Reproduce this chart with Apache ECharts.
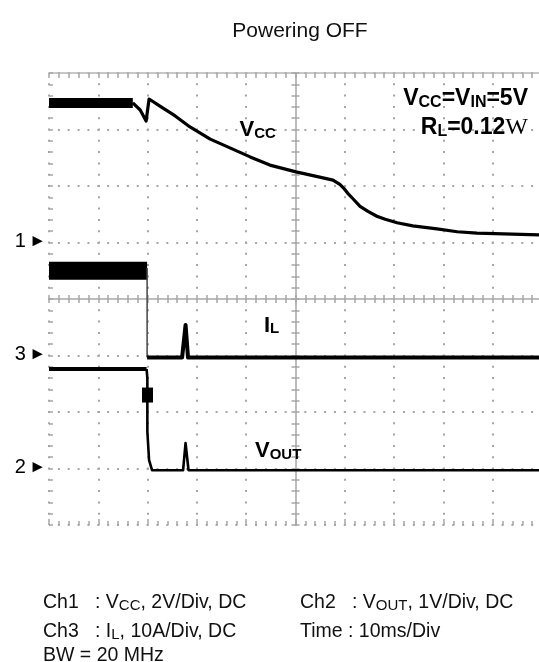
<!DOCTYPE html>
<html><head><meta charset="utf-8">
<script src="https://cdn.jsdelivr.net/npm/echarts@6/dist/echarts.min.js"></script>
<style>html,body{margin:0;padding:0;background:#fff;}#c{width:539px;height:662px;}</style>
</head><body><div id="c"></div>
<script>
// ---------- data (time in ms, 10 ms/div) ----------
// Ch1 Vcc: 2 V/div, ground marker at +1 div
const vccAxisRange = [-10, 6];
// Ch2 Vout: 1 V/div, ground marker at -3 div
const voutAxisRange = [-1, 7];
// Ch3 IL: 10 A/div, ground marker at -1 div
const ilAxisRange = [-30, 50];
const timeRange = [0, 100];

const vccNoisy = [[0, 4.94], [17.0, 4.94]];
const vccTrace = [[17.0, 4.94], [18.5, 4.69], [19.7, 4.30], [20.3, 5.08], [22.5, 4.83], [25.6, 4.48],
  [28.6, 4.09], [32.7, 3.66], [36.7, 3.35], [40.8, 3.03], [44.8, 2.74], [50.1, 2.50], [54.0, 2.35],
  [57.6, 2.21], [59.0, 2.06], [59.8, 1.92], [60.6, 1.74], [61.7, 1.54], [63.1, 1.28], [64.7, 1.10],
  [66.5, 0.93], [68.2, 0.82], [70.6, 0.70], [73.8, 0.59], [78.7, 0.48], [82.8, 0.38], [86.8, 0.33],
  [100, 0.27]];
const ilNoisy = [[0, 15], [19.9, 15]];
const ilEdge = [[19.9, 15.5], [19.9, -0.35]];
const ilTrace = [[19.9, -0.35], [27.0, -0.35], [27.7, 5.4], [28.2, -0.35], [100, -0.35]];
const voutFlat = [[0, 1.76], [19.8, 1.76]];
const voutTrace = [[19.8, 1.76], [19.95, 1.6], [19.95, 0.65], [20.3, 0.15], [20.9, -0.03],
  [27.2, -0.03], [27.7, 0.45], [28.3, -0.03], [100, -0.03]];
const voutMarker = [[19.98, 1.30]];
const channelMarks = ['1', '2', '3']; // Vcc, Vout, IL

const titleText = 'Powering OFF';
const infoRows = [
  ['Ch1   : V{s|CC}, 2V/Div, DC', 'Ch2   : V{s|OUT}, 1V/Div, DC'],
  ['Ch3   : I{s|L}, 10A/Div, DC', 'Time : 10ms/Div'],
  ['BW = 20 MHz', '']
];

// ---------- chart ----------
const FF = '"Liberation Sans", Arial, sans-serif';
const gray = '#a6a6a6';
const tickLS = {color: gray, width: 1.5};

function gx(extra) {
  return Object.assign({type: 'value', min: -5, max: 5, interval: 1, gridIndex: 0,
    axisLabel: {show: false}, splitLine: {show: false},
    axisTick: {show: false}, minorTick: {show: false},
    axisLine: {show: false, onZero: false}}, extra);
}
function gy(extra) {
  return Object.assign({type: 'value', min: -4, max: 4, interval: 1, gridIndex: 0,
    axisLabel: {show: false}, splitLine: {show: false},
    axisTick: {show: false}, minorTick: {show: false},
    axisLine: {show: false, onZero: false}}, extra);
}
function chAxis(range, interval, mark) {
  return {type: 'value', min: range[0], max: range[1], interval: interval, position: 'left',
    axisLine: {show: false, onZero: false}, axisTick: {show: false}, splitLine: {show: false},
    axisLabel: {show: true, margin: 3, padding: [0, 0, 3, 0],
      formatter: v => v === 0 ? '{n|' + mark + '} {a|►}' : '',
      rich: {n: {fontSize: 20, fontFamily: FF, color: '#000', verticalAlign: 'middle'},
             a: {fontSize: 17, fontFamily: FF, color: '#000', verticalAlign: 'middle'}}}};
}

const xAxes = [
  gx({position: 'bottom', axisTick: {show: true, inside: true, length: 6, lineStyle: tickLS},
      minorTick: {show: true, splitNumber: 5, length: 4, lineStyle: tickLS},
      splitLine: {show: true, lineStyle: {color: gray, width: 2, type: [2, 9.3], dashOffset: 1}}}),
  gx({position: 'top', axisLine: {show: true, onZero: false, lineStyle: {color: '#b5b5b5', width: 1.5}},
      axisTick: {show: true, inside: true, length: 5, lineStyle: tickLS},
      minorTick: {show: true, splitNumber: 5, length: 5, lineStyle: tickLS}}),
  gx({position: 'bottom', axisLine: {show: true, onZero: true, onZeroAxisIndex: 0, lineStyle: {color: '#bdbdbd', width: 2}},
      axisTick: {show: true, inside: true, length: 4, lineStyle: tickLS},
      minorTick: {show: true, splitNumber: 5, length: 4, lineStyle: tickLS}}),
  gx({position: 'top', axisLine: {show: false, onZero: true, onZeroAxisIndex: 0},
      axisTick: {show: true, inside: true, length: 4, lineStyle: tickLS},
      minorTick: {show: true, splitNumber: 5, length: 4, lineStyle: tickLS}}),
  {type: 'value', min: timeRange[0], max: timeRange[1], show: false, axisLine: {onZero: false}}
];
const yAxes = [
  gy({position: 'left', axisTick: {show: true, inside: true, length: 4, lineStyle: tickLS},
      minorTick: {show: true, splitNumber: 5, length: 4, lineStyle: tickLS},
      splitLine: {show: true, lineStyle: {color: gray, width: 2, type: [2, 7.86], dashOffset: 1}}}),
  gy({position: 'left', axisLine: {show: true, onZero: true, onZeroAxisIndex: 0, lineStyle: {color: '#bdbdbd', width: 2}},
      axisTick: {show: true, inside: true, length: 4, lineStyle: tickLS},
      minorTick: {show: true, splitNumber: 5, length: 4, lineStyle: tickLS}}),
  gy({position: 'right', axisLine: {show: false, onZero: true, onZeroAxisIndex: 0},
      axisTick: {show: true, inside: true, length: 4, lineStyle: tickLS},
      minorTick: {show: true, splitNumber: 5, length: 4, lineStyle: tickLS}}),
  chAxis(vccAxisRange, 2, channelMarks[0]),
  chAxis(voutAxisRange, 1, channelMarks[1]),
  chAxis(ilAxisRange, 10, channelMarks[2])
];

function line(data, yIdx, width, color) {
  return {type: 'line', xAxisIndex: 4, yAxisIndex: yIdx, data: data, showSymbol: false, symbol: 'none',
    lineStyle: {color: color || '#000', width: width, cap: 'butt', join: 'round'}, z: 5, silent: true};
}

const rich = {
  b: {fontSize: 23, fontWeight: 'bold', fontFamily: FF, verticalAlign: 'bottom', color: '#000'},
  s: {fontSize: 16, fontWeight: 'bold', fontFamily: FF, verticalAlign: 'bottom', color: '#000'},
  b2: {fontSize: 22, fontWeight: 'bold', fontFamily: FF, verticalAlign: 'bottom', color: '#000'},
  s2: {fontSize: 15, fontWeight: 'bold', fontFamily: FF, verticalAlign: 'bottom', color: '#000'},
  w: {fontSize: 24, fontFamily: '"Liberation Serif", serif', verticalAlign: 'bottom', color: '#000'}
};
function txt(x, y, text, align, r) {
  return {type: 'text', x: x, y: y, z: 10, silent: true,
    style: {text: text, rich: r || rich, align: align || 'left', textAlign: align || 'left',
      verticalAlign: 'top', textVerticalAlign: 'top', fill: '#000'}};
}
const infoRich = {s: {fontSize: 15, fontFamily: FF, color: '#111', verticalAlign: 'bottom'}};
const graphics = [
  {type: 'text', x: 300, y: 31, silent: true,
   style: {text: titleText, font: '21px ' + FF, fill: '#111', align: 'center', textAlign: 'center', verticalAlign: 'middle', textVerticalAlign: 'middle'}},
  txt(239.5, 119.4, '{b2|V}{s2|CC}'),
  txt(528, 87.5, '{b|V}{s|CC}{b|=V}{s|IN}{b|=5V}', 'right'),
  txt(528, 115.5, '{b|R}{s|L}{b|=0.12}{w|W}', 'right'),
  txt(264, 314.5, '{b2|I}{s2|L}'),
  txt(255, 440, '{b2|V}{s2|OUT}')
];
const rowY = [603, 632, 656];
infoRows.forEach((row, i) => {
  [43, 300].forEach((x, j) => {
    if (!row[j]) return;
    graphics.push({type: 'text', x: x, y: rowY[i], silent: true,
      style: {text: row[j], font: '19.5px ' + FF, fill: '#111', rich: infoRich,
        align: 'left', textAlign: 'left', verticalAlign: 'middle', textVerticalAlign: 'middle'}});
  });
});

const chart = echarts.init(document.getElementById('c'), null, {renderer: 'canvas'});
chart.setOption({
  animation: false,
  backgroundColor: '#fff',
  grid: {left: 49, top: 73, width: 493, height: 452, containLabel: false, outerBoundsMode: 'none'},
  xAxis: xAxes,
  yAxis: yAxes,
  graphic: graphics,
  series: [
    line(vccNoisy, 3, 10),
    line(vccTrace, 3, 3.2),
    line(ilNoisy, 5, 18),
    line(ilEdge, 5, 1.5, '#444'),
    line(ilTrace, 5, 4),
    line(voutFlat, 4, 4),
    line(voutTrace, 4, 2.6),
    {type: 'scatter', xAxisIndex: 4, yAxisIndex: 4, data: voutMarker, symbol: 'rect', symbolSize: [11, 15],
     itemStyle: {color: '#000', opacity: 1}, z: 6, silent: true}
  ]
});
</script></body></html>
